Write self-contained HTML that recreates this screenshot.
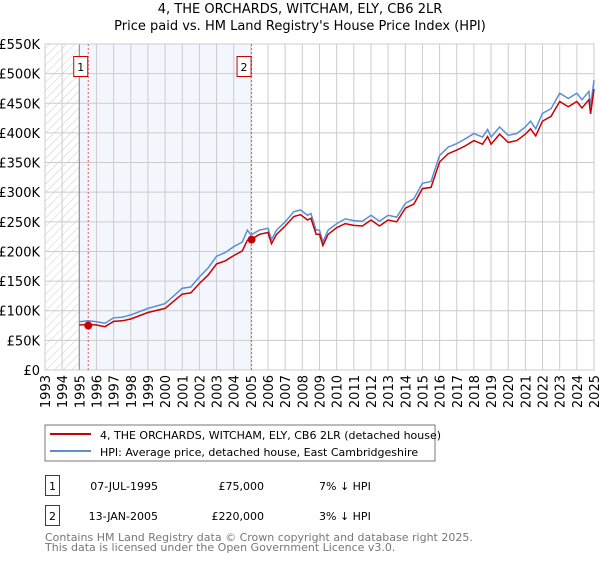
<!DOCTYPE html>
<html><head><meta charset="utf-8"><style>
body{margin:0;background:#fff;font-family:"DejaVu Sans","Liberation Sans",sans-serif}
svg text{font-family:"DejaVu Sans","Liberation Sans",sans-serif}
</style></head><body>
<svg id="chart" width="600" height="560" xmlns="http://www.w3.org/2000/svg">
<defs><pattern id="hatch" width="6" height="6" patternUnits="userSpaceOnUse" patternTransform="rotate(45)"><line x1="0" y1="0" x2="0" y2="6" stroke="#ccc" stroke-width="1"/></pattern></defs>
<text x="300" y="13" text-anchor="middle" font-size="13">4, THE ORCHARDS, WITCHAM, ELY, CB6 2LR</text>
<text x="300" y="30" text-anchor="middle" font-size="13">Price paid vs. HM Land Registry's House Price Index (HPI)</text>
<g id="plot"></g>
<rect x="45" y="425" width="390" height="36" fill="#fff" stroke="#777"/>
<line x1="50" y1="434" x2="91" y2="434" stroke="#cc0000" stroke-width="2"/>
<text x="100" y="439" font-size="11">4, THE ORCHARDS, WITCHAM, ELY, CB6 2LR (detached house)</text>
<line x1="50" y1="451" x2="91" y2="451" stroke="#5b8fd4" stroke-width="2"/>
<text x="100" y="456" font-size="11">HPI: Average price, detached house, East Cambridgeshire</text>
<g>
<rect x="45.5" y="475.5" width="14" height="20" fill="none" stroke="#cc0000"/>
<text x="52.5" y="490" text-anchor="middle" font-size="11">1</text>
<text x="158" y="490" text-anchor="end" font-size="11">07-JUL-1995</text>
<text x="264" y="490" text-anchor="end" font-size="11">£75,000</text>
<text x="319" y="490" font-size="11">7% ↓ HPI</text></g>
<g>
<rect x="45.5" y="505.5" width="14" height="20" fill="none" stroke="#cc0000"/>
<text x="52.5" y="520" text-anchor="middle" font-size="11">2</text>
<text x="158" y="520" text-anchor="end" font-size="11">13-JAN-2005</text>
<text x="264" y="520" text-anchor="end" font-size="11">£220,000</text>
<text x="319" y="520" font-size="11">3% ↓ HPI</text></g>
<text x="45" y="541" font-size="11" fill="#777">Contains HM Land Registry data © Crown copyright and database right 2025.</text>
<text x="45" y="551" font-size="11" fill="#777">This data is licensed under the Open Government Licence v3.0.</text>
</svg>
<script>
const hpiYears=[1995,1995.5,1996,1996.5,1997,1997.5,1998,1999,2000,2000.5,2001,2001.5,2002,2002.5,2003,2003.5,2004,2004.5,2004.8,2005,2005.5,2006,2006.2,2006.5,2007,2007.5,2007.9,2008.3,2008.5,2008.8,2009,2009.2,2009.5,2010,2010.5,2011,2011.5,2012,2012.5,2013,2013.5,2014,2014.5,2015,2015.5,2016,2016.5,2017,2017.5,2018,2018.5,2018.8,2019,2019.5,2020,2020.5,2021,2021.3,2021.6,2022,2022.5,2023,2023.5,2024,2024.3,2024.7,2024.8,2025];
const hpiValues=[81.5,83,81.5,79,88,89,93,104,112,125,138,140,157,172,192,198,208,216,236,228,236,239,220,236,250,267,270,261,264,236,236,216,236,247,255,252,251,261,251,261,258,281,289,315,318,362,376,382,390,399,393,406,393,410,396,399,410,420,407,433,441,467,458,467,456,470,445,489];
const priceValues=[76,77,76,73,82,83,86,97,104,116,128,130,146,160,179,184,193,201,219,220,229,232,213,229,243,259,262,253,256,229,229,210,229,240,247,244,243,253,243,253,250,273,280,306,308,351,365,371,378,387,381,394,381,398,384,387,398,407,395,420,428,453,444,453,442,456,432,474];
const saleYears=[1995.52,2005.04];
const saleValues=[75,220];
const saleLabels=["1","2"];
const yTicks=[0,50,100,150,200,250,300,350,400,450,500,550];
const xTicks=[1993,1994,1995,1996,1997,1998,1999,2000,2001,2002,2003,2004,2005,2006,2007,2008,2009,2010,2011,2012,2013,2014,2015,2016,2017,2018,2019,2020,2021,2022,2023,2024,2025];
const X0=45,X1=594,Y0=370,Y1=44;
const xs=y=>X0+(y-1993)/(2025-1993)*(X1-X0);
const ys=v=>Y0-v/550*(Y0-Y1);
const NS="http://www.w3.org/2000/svg";
const g=document.getElementById('plot');
function mk(t,a){const e=document.createElementNS(NS,t);for(const k in a)e.setAttribute(k,a[k]);g.appendChild(e);return e;}
let e;
e=mk('rect',{x:xs(1995),y:Y1,width:xs(saleYears[1])-xs(1995),height:Y0-Y1,fill:'#f3f6fd'});


e=mk('rect',{x:X0,y:Y1,width:xs(1995)-X0,height:Y0-Y1,fill:'url(#hatch)'});


yTicks.forEach(v=>{
 e=mk('line',{x1:X0,x2:X1,y1:ys(v),y2:ys(v),stroke:'#ccc'});
 
 
 e=mk('text',{x:40,y:ys(v)+5,'text-anchor':'end','font-size':'13'});
 e.textContent=v===0?'£0':'£'+v+'K';
 
 
});
xTicks.forEach(y=>{
 e=mk('line',{x1:xs(y),x2:xs(y),y1:Y1,y2:Y0,stroke:'#ccc'});
 
 
 e=mk('text',{x:0,y:0,'font-size':'13','text-anchor':'end',transform:`translate(${xs(y)+5},${Y0+5}) rotate(-90)`});
 e.textContent=y;
 
 
});
e=mk('line',{x1:xs(1995),x2:xs(1995),y1:Y1,y2:Y0,stroke:'#888'});


e=mk('rect',{x:X0,y:Y1,width:X1-X0,height:Y0-Y1,fill:'none',stroke:'#ccc'});


saleYears.forEach((y,i)=>{
 e=mk('line',{x1:xs(y),x2:xs(y),y1:Y1,y2:Y0,stroke:'#e55','stroke-dasharray':'2,2'});
 
 
 e=mk('rect',{x:xs(y)-14.5,y:56.5,width:14,height:20,fill:'#fff',stroke:'#cc0000'});
 
 
 e=mk('text',{x:xs(y)-7.5,y:71,'text-anchor':'middle','font-size':'11'});
 e.textContent=saleLabels[i];
 
 
});
const pts=(vals)=>hpiYears.map((y,i)=>xs(y).toFixed(1)+','+ys(vals[i]).toFixed(1)).join(' ');
e=mk('polyline',{points:pts(hpiValues),fill:'none',stroke:'#5b8fd4','stroke-width':1.5});


e=mk('polyline',{points:pts(priceValues),fill:'none',stroke:'#cc0000','stroke-width':1.5});


saleYears.forEach((y,i)=>{
 e=mk('circle',{cx:xs(y),cy:ys(saleValues[i]),r:4,fill:'#cc0000'});
 
 
});
</script>
</body></html>
